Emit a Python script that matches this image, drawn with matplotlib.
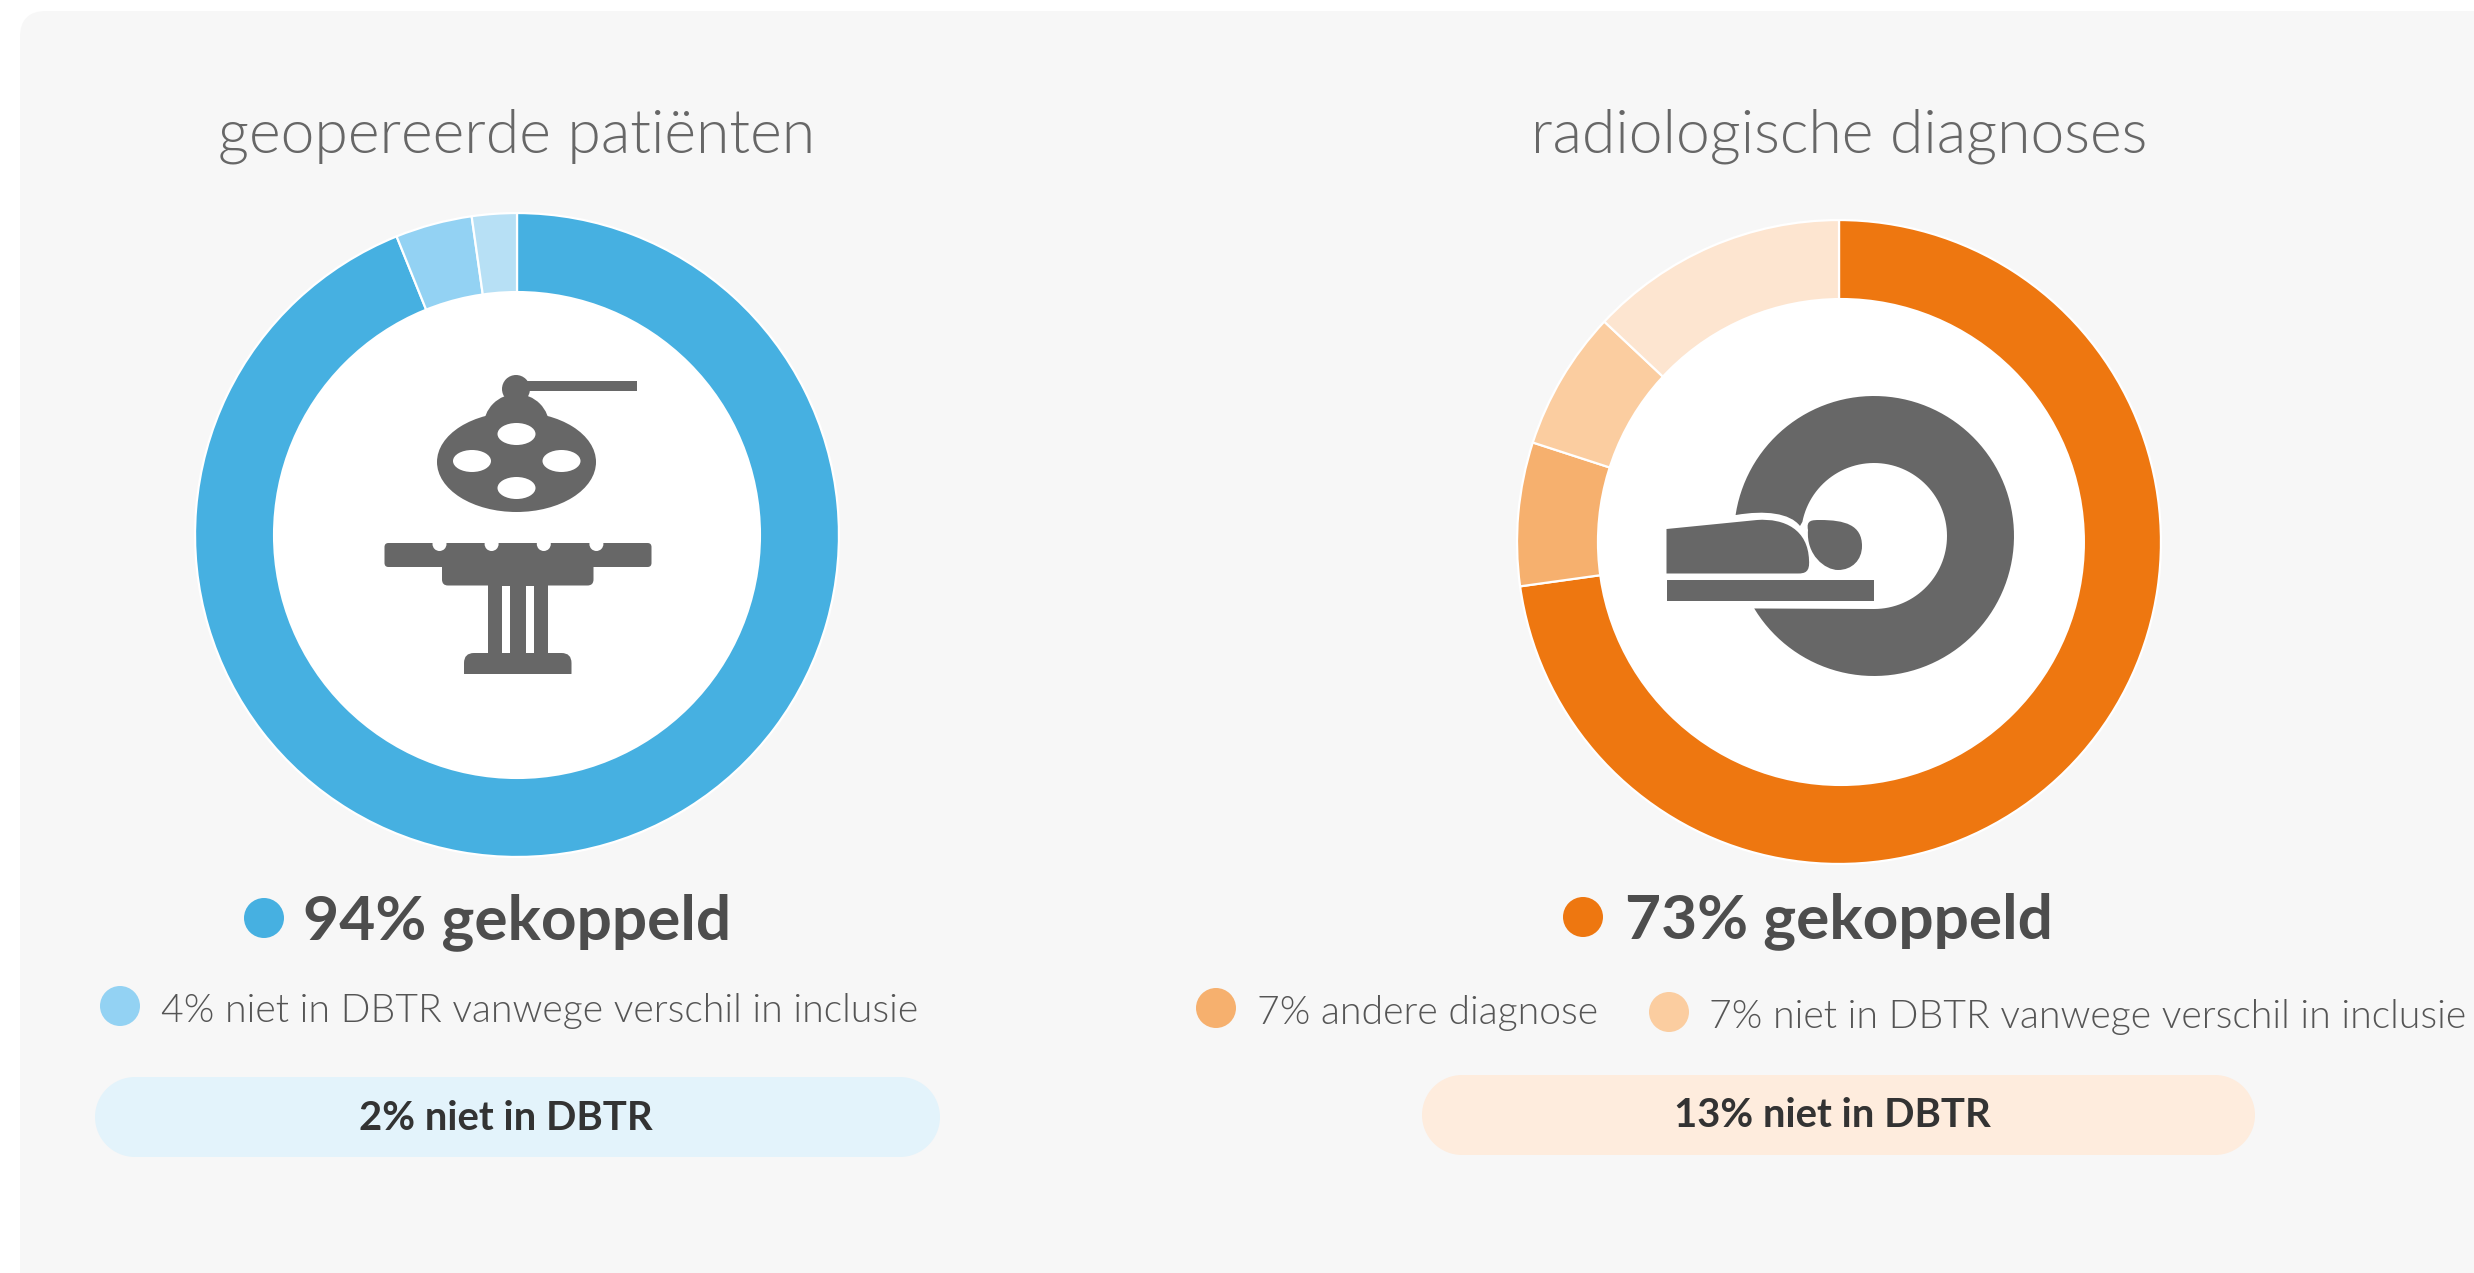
import matplotlib
matplotlib.use("Agg")
import matplotlib.pyplot as plt
from matplotlib.patches import Circle, Ellipse, FancyBboxPatch, PathPatch, Rectangle
from matplotlib.path import Path
import numpy as np

W, H = 2474, 1273

titles = ["geopereerde patiënten", "radiologische diagnoses"]

# share of each slice, clockwise from the top (as drawn, the labels are rounded)
left_values = [93.9, 3.85, 2.25]
left_colors = ["#46b0e1", "#93d2f3", "#b7e0f5"]
right_values = [72.8, 7.2, 7, 13]
right_colors = ["#ee7710", "#f6b06e", "#fbcda0", "#fde5d0"]

main_labels = ["94% gekoppeld", "73% gekoppeld"]
left_sub = "4% niet in DBTR vanwege verschil in inclusie"
right_subs = ["7% andere diagnose", "7% niet in DBTR vanwege verschil in inclusie"]
pill_labels = ["2% niet in DBTR", "13% niet in DBTR"]

GREY = "#676767"
TEXT = "#555555"

plt.rcParams["font.family"] = ["Lato", "DejaVu Sans"]

fig = plt.figure(figsize=(W / 100, H / 100), dpi=100, facecolor="white")


def pixel_axes(zorder):
    a = fig.add_axes([0, 0, 1, 1], zorder=zorder)
    a.set_xlim(0, W)
    a.set_ylim(H, 0)
    a.axis("off")
    a.patch.set_alpha(0)
    return a


def donut(values, colors, cx, cy, r=321, hole_dx=0.0):
    a = fig.add_axes([(cx - r) / W, 1 - (cy + r) / H, 2 * r / W, 2 * r / H], zorder=1)
    a.pie(values, colors=colors, startangle=90, counterclock=False, radius=1,
          wedgeprops=dict(width=0.28, edgecolor="white", linewidth=1.6))
    a.add_patch(Circle((hole_dx, 0), 0.758, fc="white", ec="none"))
    a.set_xlim(-0.997, 0.997)
    a.set_ylim(-0.997, 0.997)


def pill(x0, x1, y0, y1, color):
    r = (y1 - y0) / 2
    ax.add_patch(Rectangle((x0 + r, y0), x1 - x0 - 2 * r, y1 - y0, fc=color, ec="none"))
    ax.add_patch(Circle((x0 + r, y0 + r), r, fc=color, ec="none"))
    ax.add_patch(Circle((x1 - r, y0 + r), r, fc=color, ec="none"))


bg = pixel_axes(0)
bg.add_patch(FancyBboxPatch((20, 11), W + 100, H + 100, boxstyle="round,pad=0,rounding_size=26",
                            fc="#f7f7f7", ec="none"))

donut(left_values, left_colors, 517, 535)
donut(right_values, right_colors, 1839, 542, hole_dx=0.006)

ax = pixel_axes(2)

ax.text(517, 136, titles[0], fontsize=43.7, fontweight=300, color=GREY, ha="center", va="center")
ax.text(1839, 136, titles[1], fontsize=43.7, fontweight=300, color=GREY, ha="center", va="center")

# legend dots and labels
ax.add_patch(Circle((264, 918), 20, fc=left_colors[0], ec="none"))
ax.text(303, 939, main_labels[0], fontsize=44.8, fontweight="bold", color="#4d4d4d", va="baseline")
ax.add_patch(Circle((1583, 917), 20, fc=right_colors[0], ec="none"))
ax.text(1625, 938, main_labels[1], fontsize=44.8, fontweight="bold", color="#4d4d4d", va="baseline")

ax.add_patch(Circle((120, 1006), 20, fc=left_colors[1], ec="none"))
ax.text(161, 1022, left_sub, fontsize=28.2, fontweight=300, color=TEXT, va="baseline")
ax.add_patch(Circle((1216, 1008), 20, fc=right_colors[1], ec="none"))
ax.text(1257, 1024, right_subs[0], fontsize=28.2, fontweight=300, color=TEXT, va="baseline")
ax.add_patch(Circle((1669, 1012), 20, fc=right_colors[2], ec="none"))
ax.text(1709, 1028, right_subs[1], fontsize=28.2, fontweight=300, color=TEXT, va="baseline")

# pills
pill(95, 940, 1077, 1157, "#e3f3fb")
ax.text(506, 1130, pill_labels[0], fontsize=28.8, fontweight="bold", color="#333333", ha="center", va="baseline")
pill(1422, 2255, 1075, 1155, "#feecdd")
ax.text(1832, 1127, pill_labels[1], fontsize=28.8, fontweight="bold", color="#333333", ha="center", va="baseline")

# operating lamp icon
ax.add_patch(Rectangle((523, 381), 114, 10, fc=GREY, ec="none"))
ax.add_patch(Circle((516, 389), 14, fc=GREY, ec="none"))
ax.add_patch(Circle((516.5, 427), 33, fc=GREY, ec="none"))
ax.add_patch(Ellipse((516.5, 462), 159, 100, fc=GREY, ec="none"))
for hx, hy in [(516.5, 434), (472, 461), (561.5, 461), (516.5, 488)]:
    ax.add_patch(Ellipse((hx, hy), 38, 22, fc="white", ec="none"))

# operating table icon
ax.add_patch(FancyBboxPatch((384.5, 543), 267, 24, boxstyle="round,pad=0,rounding_size=4", fc=GREY, ec="none"))
ax.add_patch(FancyBboxPatch((442, 555), 151.5, 30.5, boxstyle="round,pad=0,rounding_size=6", fc=GREY, ec="none"))
ax.add_patch(Rectangle((488, 580), 59.5, 75, fc=GREY, ec="none"))
for sx in [501.7, 526]:
    ax.add_patch(Rectangle((sx, 586), 8.3, 67, fc="white", ec="none"))
for nx in [439.5, 491.6, 543.8, 596.4]:
    ax.add_patch(Circle((nx, 544), 7, fc="white", ec="none"))
ax.add_patch(Rectangle((432, 536), 172, 7, fc="white", ec="none"))
ax.add_patch(FancyBboxPatch((464, 653), 107.5, 30, boxstyle="round,pad=0,rounding_size=10", fc=GREY, ec="none"))
ax.add_patch(Rectangle((460, 674), 116, 12, fc="white", ec="none"))

# scanner ring icon
rx, ry, r_out, r_in = 1874, 536, 140, 73
a0 = np.arctan2(515 - ry, 1736 - rx)
a1 = np.arctan2(608 - ry, 1755 - rx)
outer = np.linspace(a0, a1, 120)
inner = np.linspace(np.pi / 2, np.arctan2(522 - ry, 1803 - rx), 90)
ring = list(zip(rx + r_out * np.cos(outer), ry + r_out * np.sin(outer)))
ring += [(rx, ry + r_in)]
ring += list(zip(rx + r_in * np.cos(inner), ry + r_in * np.sin(inner)))
codes = [Path.MOVETO] + [Path.LINETO] * (len(ring) - 1)
ring += [(1800, 526), (1790, 513), (1765, 510), (1736, 515)]
codes += [Path.LINETO, Path.CURVE4, Path.CURVE4, Path.CURVE4]
ax.add_patch(PathPatch(Path(ring, codes), fc=GREY, ec="none"))

# patient body and head
body = [(1666.5, 529), (1757, 520), (1785, 518), (1808, 530), (1809, 560), (1810, 572), (1805, 573.5),
        (1798, 573.5), (1666.5, 573.5), (1666.5, 529)]
body_codes = [Path.MOVETO, Path.LINETO, Path.CURVE4, Path.CURVE4, Path.CURVE4, Path.CURVE4, Path.CURVE4,
              Path.CURVE4, Path.LINETO, Path.CLOSEPOLY]
ax.add_patch(PathPatch(Path(body, body_codes), fc=GREY, ec="none"))
head = [(1808, 530), (1806, 520), (1812, 520), (1820, 520), (1845, 520), (1862, 525), (1862, 546),
        (1862, 560), (1852, 570), (1838, 570), (1825, 570), (1806, 555), (1808, 530), (1808, 530)]
head_codes = [Path.MOVETO] + [Path.CURVE4] * 12 + [Path.CLOSEPOLY]
ax.add_patch(PathPatch(Path(head, head_codes), fc=GREY, ec="none"))
# bed
ax.add_patch(Rectangle((1666.5, 580), 207.5, 20.5, fc=GREY, ec="none"))

fig.savefig("out.png", dpi=100)
